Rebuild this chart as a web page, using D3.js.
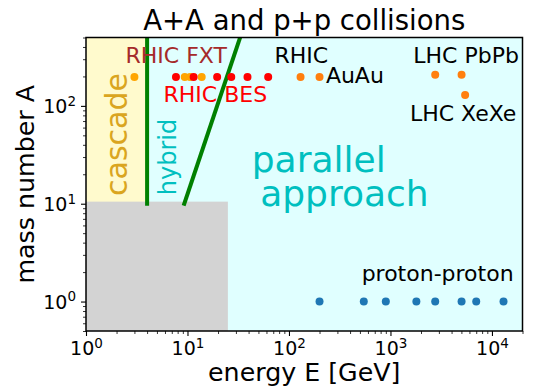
<!DOCTYPE html>
<html><head><meta charset="utf-8">
<script src="https://cdn.jsdelivr.net/npm/d3@7"></script>
<style>
body{margin:0;background:#fff}
text{font-family:"DejaVu Sans",sans-serif}
</style>
</head><body>
<svg id="chart" width="535" height="389"></svg>
<script>
// Collision systems: beam energy E [GeV] vs mass number A
const ppEnergy   = [200, 546, 900, 1800, 2760, 5020, 7000, 13000];
const ppMass     = [1, 1, 1, 1, 1, 1, 1, 1];
const fxtEnergy  = [3.0, 9.4, 10.6, 13.8];
const fxtMass    = [197, 197, 197, 197];
const besEnergy  = [7.7, 11.5, 19.6, 27, 39, 62.4];
const besMass    = [197, 197, 197, 197, 197, 197];
const rhicEnergy = [130, 200];
const rhicMass   = [197, 197];
const lhcEnergy  = [2760, 5020, 5440];
const lhcMass    = [208, 208, 129];

// Regions of the model landscape
const cascadeE   = [1, 4];
const grayE      = [1, 25];
const grayA      = [0.5, 10.5];
const hybridE    = [4, 4];
const hybridA    = [10, 500];
const parallelE  = [9.3, 33];
const parallelA  = [10, 500];

const xTickValues = [1, 10, 100, 1000, 10000];
const yTickValues = [1, 10, 100];
const xDomain = [1, 2e4];
const yDomain = [0.5, 500];

const svg = d3.select("#chart");
const L = 86, R = 522.5, T = 37.5, B = 331;
const x = d3.scaleLog().domain(xDomain).range([L, R]);
const y = d3.scaleLog().domain(yDomain).range([B, T]);

svg.append("defs").append("clipPath").attr("id", "plotclip")
  .append("rect").attr("x", L).attr("y", T).attr("width", R - L).attr("height", B - T);

const plot = svg.append("g").attr("clip-path", "url(#plotclip)");

// backgrounds
plot.append("rect").attr("x", L).attr("y", T).attr("width", R - L).attr("height", B - T)
  .attr("fill", "#e0ffff");
plot.append("rect").attr("x", x(cascadeE[0])).attr("y", T)
  .attr("width", x(cascadeE[1]) - x(cascadeE[0])).attr("height", B - T)
  .attr("fill", "#fffacd");
plot.append("rect").attr("x", x(grayE[0])).attr("y", y(grayA[1]))
  .attr("width", x(grayE[1]) - x(grayE[0])).attr("height", y(grayA[0]) - y(grayA[1]))
  .attr("fill", "#d3d3d3");

// region boundaries
const line = d3.line().x(d => x(d[0])).y(d => y(d[1]));
plot.append("path").datum(d3.zip(hybridE, hybridA)).attr("d", line)
  .attr("stroke", "green").attr("stroke-width", 4).attr("fill", "none").attr("stroke-linecap", "square");
plot.append("path").datum(d3.zip(parallelE, parallelA)).attr("d", line)
  .attr("stroke", "green").attr("stroke-width", 4).attr("fill", "none").attr("stroke-linecap", "square");

// data points
function dots(es, as, color) {
  plot.append("g").selectAll("circle").data(d3.zip(es, as)).join("circle")
    .attr("cx", d => x(d[0])).attr("cy", d => y(d[1])).attr("r", 4).attr("fill", color);
}
dots(ppEnergy, ppMass, "#1f77b4");
dots(fxtEnergy, fxtMass, "#ffa500");
dots(besEnergy, besMass, "#ff0000");
dots(rhicEnergy, rhicMass, "#ff7f0e");
dots(lhcEnergy, lhcMass, "#ff7f0e");

// annotations
function label(e, a, txt, color, size, opts = {}) {
  const t = plot.append("text").attr("x", x(e)).attr("y", y(a))
    .attr("fill", color).attr("font-size", size).text(txt);
  if (opts.anchor) t.attr("text-anchor", opts.anchor);
  if (opts.rotate) t.attr("transform", `rotate(-90,${x(e)},${y(a)})`);
  return t;
}
label(2.45, 272, "RHIC FXT", "#a52a2a", 22);
label(5.8, 110, "RHIC BES", "#ff0000", 22);
label(72, 272, "RHIC", "#000", 22);
label(231, 171, "AuAu", "#000", 22);
label(1680, 272, "LHC PbPb", "#000", 22);
label(1556, 69.5, "LHC XeXe", "#000", 22);
label(520, 1.62, "proton-proton", "#000", 22);
label(2.53, 51, "cascade", "#daa520", 30, {anchor: "middle", rotate: true});
label(7.7, 30, "hybrid", "#00bfbf", 24, {anchor: "middle", rotate: true});
label(43, 21, "parallel", "#00bfbf", 36);
label(52, 9.5, "approach", "#00bfbf", 36);

// axes
function pow10(g) {
  g.selectAll(".tick text").each(function(d) {
    const t = d3.select(this);
    const p = Math.round(Math.log10(d));
    t.text(null).attr("font-size", 19).attr("font-family", "DejaVu Sans").attr("fill", "#000");
    t.append("tspan").text("10");
    t.append("tspan").attr("font-size", 13.5).attr("dy", "-0.55em").text(p);
  });
}
const minorX = x.ticks().filter(v => Math.abs(Math.log10(v) - Math.round(Math.log10(v))) > 1e-6);
const minorY = y.ticks().filter(v => Math.abs(Math.log10(v) - Math.round(Math.log10(v))) > 1e-6);

const gx = svg.append("g").attr("transform", `translate(0,${B})`)
  .call(d3.axisBottom(x).tickValues(xTickValues).tickSize(5).tickPadding(6).tickSizeOuter(0));
gx.select(".domain").remove();
gx.selectAll(".tick line").attr("stroke", "#000").attr("stroke-width", 1.1);
pow10(gx);
const gxm = svg.append("g").attr("transform", `translate(0,${B})`)
  .call(d3.axisBottom(x).tickValues(minorX).tickSize(3).tickFormat(""));
gxm.select(".domain").remove();
gxm.selectAll(".tick line").attr("stroke", "#000").attr("stroke-width", 0.8);

const gy = svg.append("g").attr("transform", `translate(${L},0)`)
  .call(d3.axisLeft(y).tickValues(yTickValues).tickSize(5).tickPadding(5).tickSizeOuter(0));
gy.select(".domain").remove();
gy.selectAll(".tick line").attr("stroke", "#000").attr("stroke-width", 1.1);
pow10(gy);
gy.selectAll(".tick text").attr("dy", "0.36em");
const gym = svg.append("g").attr("transform", `translate(${L},0)`)
  .call(d3.axisLeft(y).tickValues(minorY).tickSize(3).tickFormat(""));
gym.select(".domain").remove();
gym.selectAll(".tick line").attr("stroke", "#000").attr("stroke-width", 0.8);

// frame
svg.append("rect").attr("x", L).attr("y", T).attr("width", R - L).attr("height", B - T)
  .attr("fill", "none").attr("stroke", "#000").attr("stroke-width", 1.5);

// titles
svg.append("text").attr("x", (L + R) / 2).attr("y", 30).attr("text-anchor", "middle")
  .attr("font-size", 27.5).text("A+A and p+p collisions");
svg.append("text").attr("x", (L + R) / 2).attr("y", 381).attr("text-anchor", "middle")
  .attr("font-size", 25.3).text("energy E [GeV]");
svg.append("text").attr("transform", `translate(34,${(T + B) / 2}) rotate(-90)`)
  .attr("text-anchor", "middle").attr("font-size", 25.3).text("mass number A");
</script>
</body></html>
